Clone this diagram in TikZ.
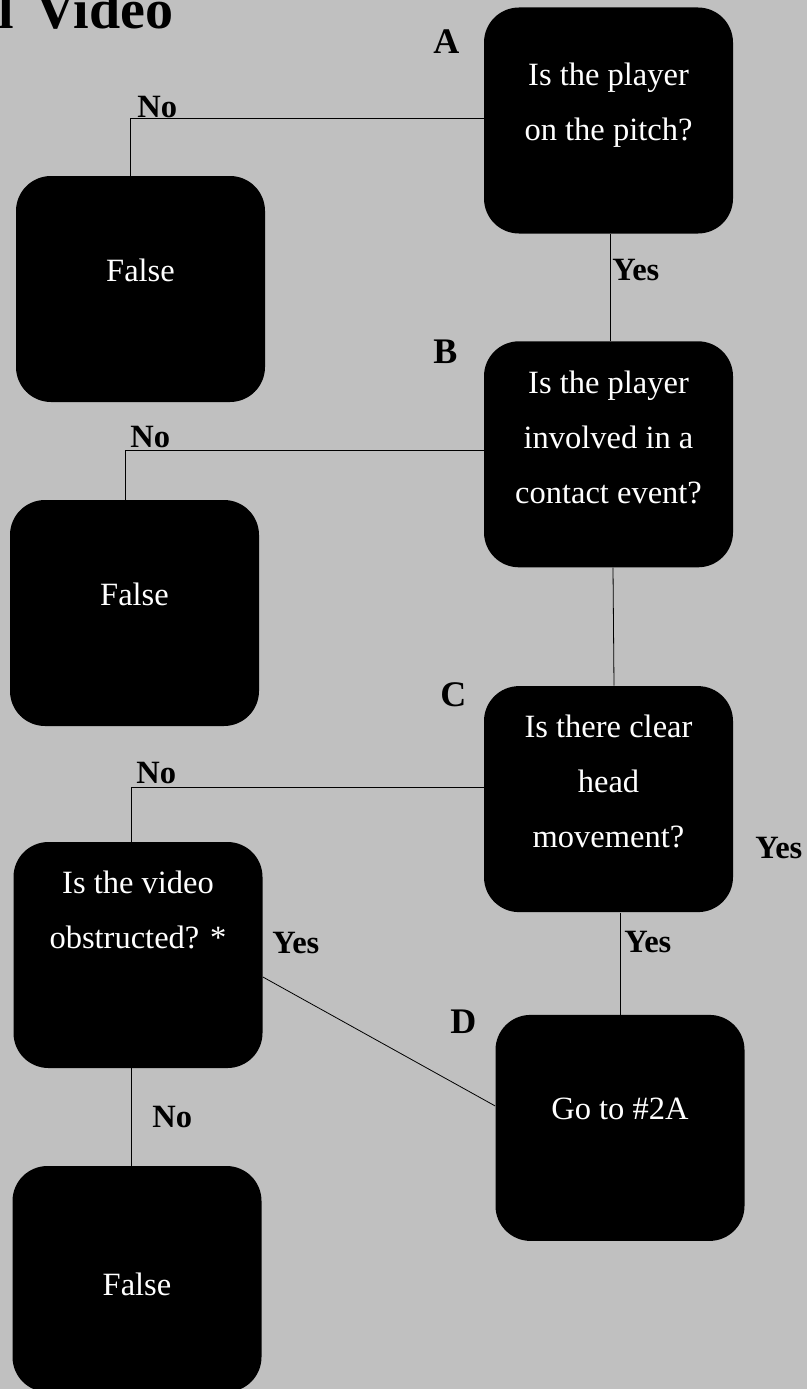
\documentclass[tikz,border=0pt]{standalone}
\usepackage{fontspec}
\setmainfont{Liberation Serif}
\usetikzlibrary{positioning}

\definecolor{sheetgray}{RGB}{192,192,192}
% text of a box, pushed down from the top by #1
\newcommand{\qtext}[2]{\parbox[c][226pt][t]{249pt}{\centering\vspace*{#1}#2}}

\begin{document}
\begin{tikzpicture}[x=1pt,y=-1pt,line width=0.8pt,
    qbox/.style={fill=black,rounded corners=35pt,text=white,inner sep=0pt,
      minimum width=249pt,minimum height=226pt,font=\fontsize{32.5}{55}\selectfont},
    answer/.style={anchor=base west,inner sep=0pt,font=\fontsize{32.5}{32}\selectfont\bfseries},
    boxletter/.style={anchor=base west,inner sep=0pt,font=\fontsize{36}{36}\selectfont\bfseries}]

\path[use as bounding box,fill=sheetgray] (0,0) rectangle (807,1389);

\node[anchor=base east,inner sep=0pt,font=\fontsize{56}{56}\selectfont\bfseries] (title) at (173.5,29) {l\hspace{21pt}Video};

% right column
\node[qbox] (A) at (608.5,120.5) {\qtext{55pt}{Is the player\\on the pitch?}};
\node[qbox] (B) [below=107pt of A] {\qtext{30pt}{Is the player\\involved in a\\contact event?}};
\node[qbox] (C) [below=118pt of B] {\qtext{29pt}{Is there clear\\head\\movement?}};
\node[qbox] (D) [below=102pt of C,xshift=11.5pt] {\qtext{83pt}{Go to \#2A}};

% left column
\node[qbox] (F1) at (140.5,289) {\qtext{83pt}{False}};
\node[qbox] (F2) at (134.5,613) {\qtext{83pt}{False}};
\node[qbox] (V) at (138,955) {\qtext{29pt}{Is the video\\obstructed? *}};
\node[qbox] (F3) at (137,1279) {\qtext{107pt}{False}};

\node[boxletter] (la) at (433,53) {A};
\node[boxletter] (lb) at (433,363) {B};
\node[boxletter] (lc) at (440,706) {C};
\node[boxletter] (ld) at (450,1033) {D};

\draw ([yshift=2.5pt]A.west) -| ([xshift=-10.5pt]F1.north);
\draw ([yshift=4pt]B.west) -| ([xshift=-9.5pt]F2.north);
\draw ([yshift=12pt]C.west) -| ([xshift=-7pt]V.north);
\draw ([xshift=2pt]A.south) -- ([xshift=2pt]B.north);
\draw ([xshift=4.5pt]B.south) -- ([xshift=5.5pt]C.north);
\draw (D.north |- C.south) -- (D.north);
\draw ([yshift=-22pt]V.east) -- ([yshift=22pt]D.west);
\draw ([xshift=-7pt]V.south) -- ([xshift=-6pt]F3.north);

\node[answer] (no1) at (137,117) {No};
\node[answer] (no2) at (130,447) {No};
\node[answer] (no3) at (136,783) {No};
\node[answer] (no4) at (152,1127) {No};
\node[answer] (yes1) at (612,280) {Yes};
\node[answer] (yes2) at (755,858) {Yes};
\node[answer] (yes3) at (272,953) {Yes};
\node[answer] (yes4) at (624,952) {Yes};
\end{tikzpicture}
\end{document}
